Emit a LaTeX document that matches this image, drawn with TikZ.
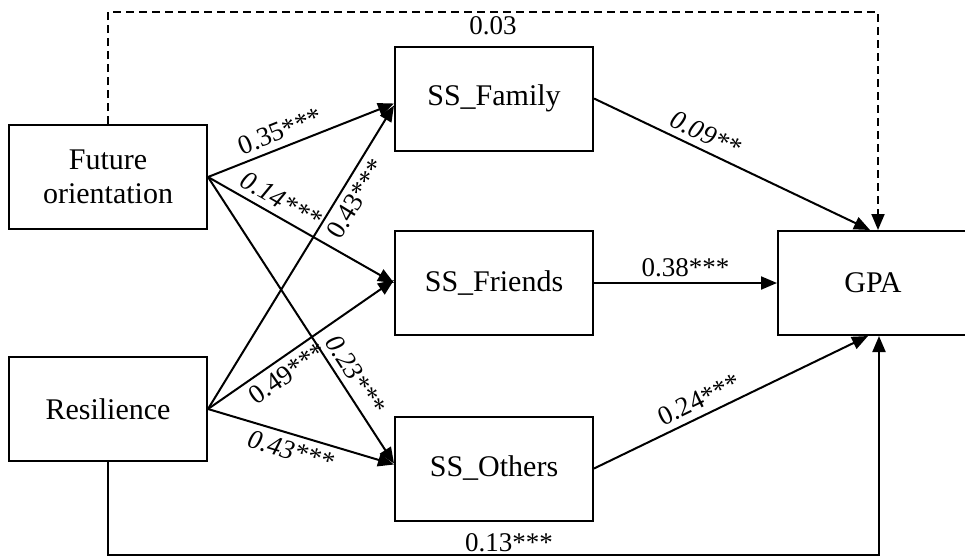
\documentclass[tikz,border=0pt]{standalone}
\usepackage{fontspec}
\setmainfont{Liberation Serif}
\usepackage{tikz}
\usetikzlibrary{arrows.meta, positioning}

\begin{document}
\begin{tikzpicture}[
        x=1pt, y=-1pt,
        line width=2pt,
        every node/.style={font=\fontsize{27}{29}\selectfont},
        var/.style={rectangle, draw, line width=2pt, minimum width=198pt, minimum height=104pt, align=center, inner sep=0pt, font=\fontsize{30}{34}\selectfont},
        coef/.style={sloped, inner sep=6pt},
        >={Triangle[length=16pt, width=13pt]}
    ]
        \useasboundingbox (0,0) rectangle (965,558);

        \node[var] (future) at (108,177) {Future\\orientation};
        \node[var, below=126pt of future] (resil) {Resilience};
        \node[var, right=186pt of future, yshift=78.5pt] (family) {SS\_Family};
        \node[var, right=186pt of future, yshift=-106pt] (friends) {SS\_Friends};
        \node[var, right=186pt of resil, yshift=-59.5pt] (others) {SS\_Others};
        \node[var, minimum width=190pt, right=183pt of friends] (gpa) {GPA};

        % predictors -> social support
        \draw[->] (future.east) -- node[coef, above, pos=0.42]{0.35***} ([yshift=-5pt]family.west);
        \draw[->] (future.east) -- node[coef, above, pos=0.35]{\itshape 0.14***} (friends.west);
        \draw[->] (future.east) -- node[coef, above, pos=0.72]{\itshape 0.23***} ([yshift=5pt]others.west);
        \draw[->] (resil.east) -- node[coef, below, pos=0.72]{0.43***} ([yshift=-7pt]family.west);
        \draw[->] (resil.east) -- node[coef, below, pos=0.38]{0.49***} ([yshift=3pt]friends.west);
        \draw[->] (resil.east) -- node[coef, below, pos=0.47]{\itshape 0.43***} ([yshift=4pt]others.west);

        % social support -> GPA
        \draw[->] (family.east) -- node[coef, above, pos=0.38]{\itshape 0.09**} ([xshift=-3pt]gpa.north);
        \draw[->] (friends.east) -- node[above, inner sep=5pt]{0.38***} (gpa.west);
        \draw[->] (others.east) -- node[coef, above, pos=0.41]{0.24***} ([xshift=-5pt]gpa.south);

        % direct paths
        \draw[->, dash pattern=on 8pt off 5pt] (future.north) -- ++(0,-112) -| node[below, pos=0.25]{0.03} ([xshift=5pt]gpa.north);
        \draw[->] (resil.south) -- ++(0,93) -| node[above, pos=0.26, inner sep=2pt]{0.13***} ([xshift=6pt]gpa.south);

    \end{tikzpicture}
\end{document}
